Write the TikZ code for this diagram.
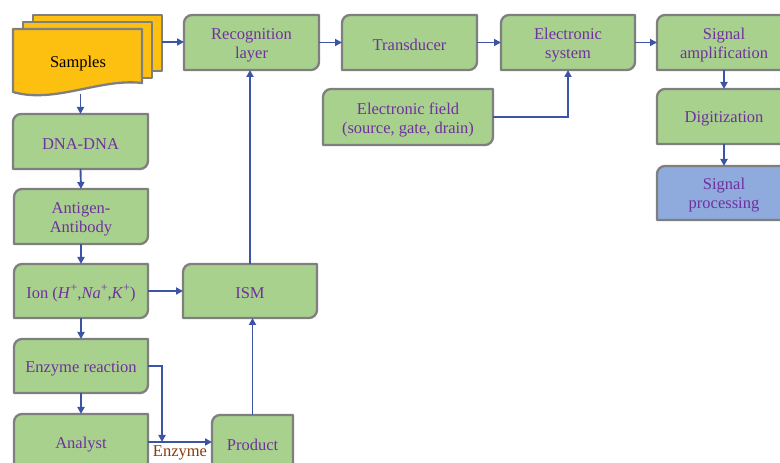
\documentclass[tikz,border=0pt]{standalone}
\usepackage{fontspec}
\setmainfont{Liberation Serif}
\usetikzlibrary{arrows.meta,backgrounds,calc}
\definecolor{boxgreen}{HTML}{A9D18E}
\definecolor{boxblue}{HTML}{8FAADC}
\definecolor{boxborder}{HTML}{7F7F7F}
\definecolor{txtpurple}{HTML}{7030A0}
\definecolor{arrblue}{HTML}{3B54A5}
\definecolor{sampyellow}{HTML}{FDC010}
\definecolor{enzbrown}{HTML}{843C0C}
\newcommand\supplus{\raisebox{0.42em}{\fontsize{12}{12}\selectfont +}}
\tikzset{
  boxtext/.style={inner sep=0pt, outer sep=0pt, align=center, text=txtpurple,
    font=\fontsize{16.5}{19}\selectfont},
  boxline/.style={draw=boxborder, line width=2.3pt, line join=round},
  conn/.style={draw=arrblue, line width=1.9pt, -{Triangle[length=7pt,width=7pt]}},
}
% name, x1, y1, x2, y2 (pixels, y downward), fill, text
\newcommand\gbox[7]{%
  \node[boxtext, minimum width={#4-#2}, minimum height={#5-#3}] (#1)
     at ({(#2+#4)/2},{463-(#3+#5)/2}) {};
  \begin{pgfonlayer}{background}
  \draw[boxline, fill=#6] (#1.south west) -- ([yshift=-8pt]#1.north west)
     arc(180:90:8pt) -- (#1.north east) -- ([yshift=8pt]#1.south east)
     arc(0:-90:8pt) -- cycle;
  \end{pgfonlayer}
  \node[boxtext] (#1-text) at ([yshift=-2.5pt]#1.center) {#7};}
\begin{document}
\begin{tikzpicture}[x=1pt,y=1pt]
\useasboundingbox (0,0) rectangle (780,463);
% Samples (multi-document)
\draw[boxline, fill=sampyellow] (33,{463-15}) rectangle (162,{463-71});
\draw[boxline, fill=sampyellow] (23,{463-22}) rectangle (152,{463-78});
\draw[boxline, fill=sampyellow] (13,{463-29}) -- (142,{463-29}) -- (142,{463-83})
   .. controls (100,{463-78}) and (55,{463-104}) .. (13,{463-92}) -- cycle;
\node[inner sep=0pt, outer sep=0pt, minimum width=129pt, minimum height=65pt] (samples) at (78,{463-61.5}) {};
\node[inner sep=0pt, font=\fontsize{16.5}{19}\selectfont] (samples-text) at (78,{463-64}) {Samples};
\coordinate (samplesback) at (162,{463-42});

\gbox{rec}{184}{15}{319}{70}{boxgreen}{Recognition\\layer}
\gbox{trans}{342}{15}{477}{70}{boxgreen}{Transducer}
\gbox{esys}{501}{15}{635}{70}{boxgreen}{Electronic\\system}
\gbox{samp}{657}{15}{791}{70}{boxgreen}{Signal\\amplification}
\gbox{digit}{657}{89}{791}{144}{boxgreen}{Digitization}
\gbox{proc}{657}{166}{791}{220}{boxblue}{Signal\\processing}
\gbox{efield}{323}{89}{493}{145}{boxgreen}{Electronic field\\(source, gate, drain)}

\gbox{dna}{13}{114}{148}{169}{boxgreen}{DNA-DNA}
\gbox{anti}{14}{189}{148}{244}{boxgreen}{Antigen-\\Antibody}
\gbox{ion}{14}{264}{148}{318}{boxgreen}{Ion (\textit{H}\supplus,\textit{Na}\supplus,\textit{K}\supplus)}
\gbox{ism}{183}{264}{317}{318}{boxgreen}{ISM}
\gbox{enz}{14}{339}{148}{393}{boxgreen}{Enzyme reaction}
\gbox{analyst}{14}{414}{148}{470}{boxgreen}{Analyst}
\gbox{product}{212}{415}{293}{470}{boxgreen}{Product}

% connectors
\draw[conn] (samplesback) -- (samplesback -| rec.west);
\draw[conn] (rec.east) -- (trans.west);
\draw[conn] (trans.east) -- (esys.west);
\draw[conn] (esys.east) -- (samp.west);
\draw[conn] (samp.south) -- (digit.north);
\draw[conn] (digit.south) -- (proc.north);
\draw[conn] (efield.east) -| (esys.south);

\draw[conn] (dna.north |- samples.south) -- (dna.north);
\draw[conn] (dna.south) -- (anti.north);
\draw[conn] (anti.south) -- (ion.north);
\draw[conn] (ion.south) -- (enz.north);
\draw[conn] (enz.south) -- (analyst.north);
\draw[conn] (ion.east) -- (ion.east -| ism.west);
\draw[conn] (ism.north) -- (ism.north |- rec.south);
\draw[conn] (product.north) -- (product.north |- ism.south);
\coordinate (aout) at (148,{463-442});
\draw[conn] (aout) -- (aout -| product.west);
\coordinate (ebend) at (162,{463-366});
\draw[conn] (enz.east |- ebend) -- (ebend) -- (ebend |- aout);
\node[inner sep=0pt, text=enzbrown, font=\fontsize{16.5}{19}\selectfont, anchor=north]
   (enzlabel) at (180,{463-445}) {Enzyme};
\end{tikzpicture}
\end{document}
